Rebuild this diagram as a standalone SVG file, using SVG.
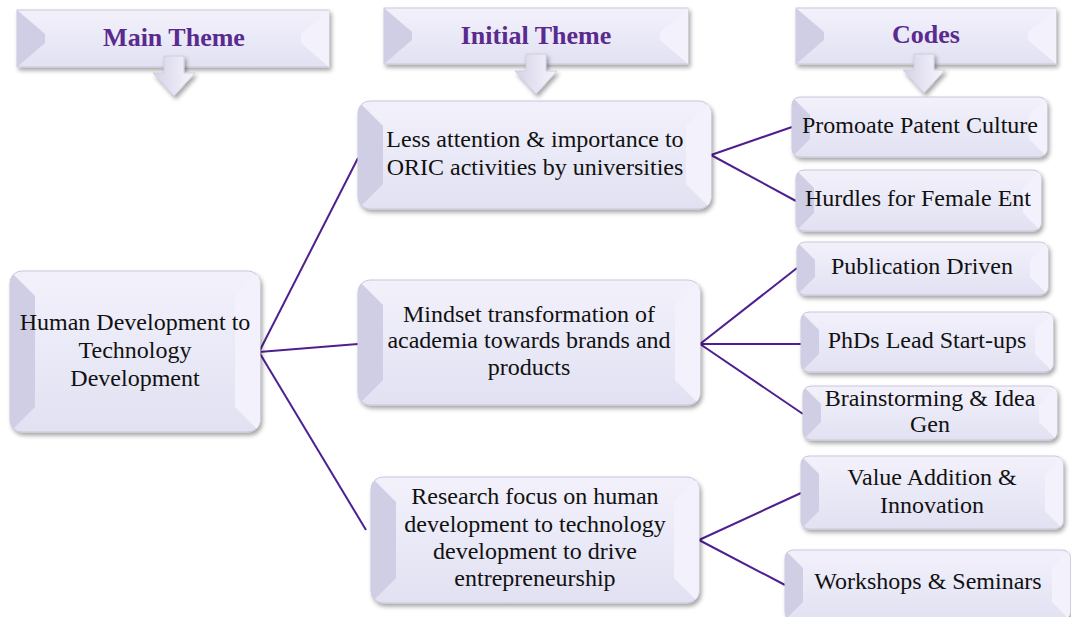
<svg xmlns="http://www.w3.org/2000/svg" width="1071" height="617" viewBox="0 0 1071 617">
<style>
.box{fill:url(#gBox);stroke:#c9c7dc;stroke-width:1}
.lft{fill:#d0cee4}
.rgt{fill:#f3f2fc}
.txt{font-family:'Liberation Serif','Times New Roman',serif;font-size:24px;fill:#111;text-anchor:middle}
.hdr{font-family:'Liberation Serif','Times New Roman',serif;font-size:26px;font-weight:bold;fill:#5a2a8e;text-anchor:middle}
.arr{fill:url(#gArr);stroke:#cfcde0;stroke-width:1}
.con{stroke:#4e1f8f;stroke-width:2;fill:none}
</style>
<defs>
<linearGradient id="gBox" x1="0" y1="0" x2="0" y2="1">
<stop offset="0" stop-color="#f2f1fb"/><stop offset="0.5" stop-color="#eae9f7"/><stop offset="1" stop-color="#e2e1f2"/>
</linearGradient>
<linearGradient id="gArr" x1="0" y1="0" x2="1" y2="0">
<stop offset="0" stop-color="#d4d2e7"/><stop offset="1" stop-color="#f7f6fd"/>
</linearGradient>
<filter id="sh" x="-10%" y="-10%" width="120%" height="130%">
<feDropShadow dx="2" dy="3" stdDeviation="2" flood-color="#000" flood-opacity="0.35"/>
</filter>
<clipPath id="cM"><rect x="10" y="271" width="250" height="161" rx="12"/></clipPath>
<clipPath id="cT1"><rect x="358" y="101" width="353" height="108" rx="12"/></clipPath>
<clipPath id="cT2"><rect x="358" y="280" width="342" height="125" rx="12"/></clipPath>
<clipPath id="cT3"><rect x="371" y="477" width="328" height="126" rx="12"/></clipPath>
<clipPath id="cC1"><rect x="792" y="97" width="255" height="60" rx="8"/></clipPath>
<clipPath id="cC2"><rect x="796" y="170" width="245" height="61" rx="8"/></clipPath>
<clipPath id="cC3"><rect x="797" y="242" width="251" height="53" rx="8"/></clipPath>
<clipPath id="cC4"><rect x="801" y="312" width="252" height="60" rx="8"/></clipPath>
<clipPath id="cC5"><rect x="803" y="386" width="254" height="54" rx="8"/></clipPath>
<clipPath id="cC6"><rect x="801" y="456" width="262" height="73" rx="8"/></clipPath>
<clipPath id="cC7"><rect x="785" y="550" width="285" height="70" rx="8"/></clipPath>
</defs>
<rect width="1071" height="617" fill="#fff"/>

<g id="connectors">
<line class="con" x1="259" y1="352" x2="358" y2="158"/>
<line class="con" x1="259" y1="352" x2="358" y2="344"/>
<line class="con" x1="259" y1="352" x2="366" y2="530"/>
<line class="con" x1="711" y1="155" x2="792" y2="127"/>
<line class="con" x1="711" y1="155" x2="796" y2="201"/>
<line class="con" x1="700" y1="344" x2="797" y2="268"/>
<line class="con" x1="700" y1="344" x2="801" y2="344"/>
<line class="con" x1="700" y1="344" x2="803" y2="414"/>
<line class="con" x1="699" y1="540" x2="801" y2="493"/>
<line class="con" x1="699" y1="540" x2="785" y2="585"/>
</g>

<g id="hdr-main">
<rect class="box" x="17" y="10" width="312" height="57" filter="url(#sh)"/>
<polygon class="lft" points="17,10 45,34 45,43 17,67"/>
<polygon class="rgt" points="329,10 301,34 301,43 329,67"/>
<text class="hdr" x="174" y="46">Main Theme</text>
<path class="arr" d="M164,56 H184 V73 H195 L174,96 L153,73 H164 Z" filter="url(#sh)"/>
</g>
<g id="hdr-initial">
<rect class="box" x="384" y="8" width="304" height="56" filter="url(#sh)"/>
<polygon class="lft" points="384,8 412,32 412,40 384,64"/>
<polygon class="rgt" points="688,8 660,32 660,40 688,64"/>
<text class="hdr" x="536" y="44">Initial Theme</text>
<path class="arr" d="M526,54 H546 V71 H557 L536,94 L515,71 H526 Z" filter="url(#sh)"/>
</g>
<g id="hdr-codes">
<rect class="box" x="796" y="8" width="260" height="56" filter="url(#sh)"/>
<polygon class="lft" points="796,8 824,32 824,40 796,64"/>
<polygon class="rgt" points="1056,8 1028,32 1028,40 1056,64"/>
<text class="hdr" x="926" y="43">Codes</text>
<path class="arr" d="M914,54 H934 V70 H945 L924,93 L903,70 H914 Z" filter="url(#sh)"/>
</g>

<g id="main">
<rect class="box" x="10" y="271" width="250" height="161" rx="12" filter="url(#sh)"/>
<g clip-path="url(#cM)"><polygon class="lft" points="10,271 35,296 35,407 10,432"/><polygon class="rgt" points="260,271 235,296 235,407 260,432"/></g>
<text class="txt" x="135" y="330">Human Development to</text>
<text class="txt" x="135" y="358">Technology</text>
<text class="txt" x="135" y="386">Development</text>
</g>

<g id="theme1">
<rect class="box" x="358" y="101" width="353" height="108" rx="12" filter="url(#sh)"/>
<g clip-path="url(#cT1)"><polygon class="lft" points="358,101 383,126 383,184 358,209"/><polygon class="rgt" points="711,101 686,126 686,184 711,209"/></g>
<text class="txt" x="535" y="147">Less attention &amp; importance to</text>
<text class="txt" x="535" y="175">ORIC activities by universities</text>
</g>

<g id="theme2">
<rect class="box" x="358" y="280" width="342" height="125" rx="12" filter="url(#sh)"/>
<g clip-path="url(#cT2)"><polygon class="lft" points="358,280 383,305 383,380 358,405"/><polygon class="rgt" points="700,280 675,305 675,380 700,405"/></g>
<text class="txt" x="529" y="322">Mindset transformation of</text>
<text class="txt" x="529" y="348">academia towards brands and</text>
<text class="txt" x="529" y="375">products</text>
</g>

<g id="theme3">
<rect class="box" x="371" y="477" width="328" height="126" rx="12" filter="url(#sh)"/>
<g clip-path="url(#cT3)"><polygon class="lft" points="371,477 396,502 396,578 371,603"/><polygon class="rgt" points="699,477 674,502 674,578 699,603"/></g>
<text class="txt" x="535" y="504">Research focus on human</text>
<text class="txt" x="535" y="532">development to technology</text>
<text class="txt" x="535" y="559">development to drive</text>
<text class="txt" x="535" y="586">entrepreneurship</text>
</g>

<g id="code1">
<rect class="box" x="792" y="97" width="255" height="60" rx="8" filter="url(#sh)"/>
<g clip-path="url(#cC1)"><polygon class="lft" points="792,97 810,115 810,139 792,157"/><polygon class="rgt" points="1047,97 1029,115 1029,139 1047,157"/></g>
<text class="txt" x="920" y="133">Promoate Patent Culture</text>
</g>
<g id="code2">
<rect class="box" x="796" y="170" width="245" height="61" rx="8" filter="url(#sh)"/>
<g clip-path="url(#cC2)"><polygon class="lft" points="796,170 814,188 814,213 796,231"/><polygon class="rgt" points="1041,170 1023,188 1023,213 1041,231"/></g>
<text class="txt" x="918" y="206">Hurdles for Female Ent</text>
</g>
<g id="code3">
<rect class="box" x="797" y="242" width="251" height="53" rx="8" filter="url(#sh)"/>
<g clip-path="url(#cC3)"><polygon class="lft" points="797,242 815,260 815,277 797,295"/><polygon class="rgt" points="1048,242 1030,260 1030,277 1048,295"/></g>
<text class="txt" x="922" y="274">Publication Driven</text>
</g>
<g id="code4">
<rect class="box" x="801" y="312" width="252" height="60" rx="8" filter="url(#sh)"/>
<g clip-path="url(#cC4)"><polygon class="lft" points="801,312 819,330 819,354 801,372"/><polygon class="rgt" points="1053,312 1035,330 1035,354 1053,372"/></g>
<text class="txt" x="927" y="348">PhDs Lead Start-ups</text>
</g>
<g id="code5">
<rect class="box" x="803" y="386" width="254" height="54" rx="8" filter="url(#sh)"/>
<g clip-path="url(#cC5)"><polygon class="lft" points="803,386 821,404 821,422 803,440"/><polygon class="rgt" points="1057,386 1039,404 1039,422 1057,440"/></g>
<text class="txt" x="930" y="406">Brainstorming &amp; Idea</text>
<text class="txt" x="930" y="432">Gen</text>
</g>
<g id="code6">
<rect class="box" x="801" y="456" width="262" height="73" rx="8" filter="url(#sh)"/>
<g clip-path="url(#cC6)"><polygon class="lft" points="801,456 819,474 819,511 801,529"/><polygon class="rgt" points="1063,456 1045,474 1045,511 1063,529"/></g>
<text class="txt" x="932" y="485">Value Addition &amp;</text>
<text class="txt" x="932" y="513">Innovation</text>
</g>
<g id="code7">
<rect class="box" x="785" y="550" width="285" height="70" rx="8" filter="url(#sh)"/>
<g clip-path="url(#cC7)"><polygon class="lft" points="785,550 803,568 803,602 785,620"/><polygon class="rgt" points="1070,550 1052,568 1052,602 1070,620"/></g>
<text class="txt" x="928" y="589">Workshops &amp; Seminars</text>
</g>
</svg>
